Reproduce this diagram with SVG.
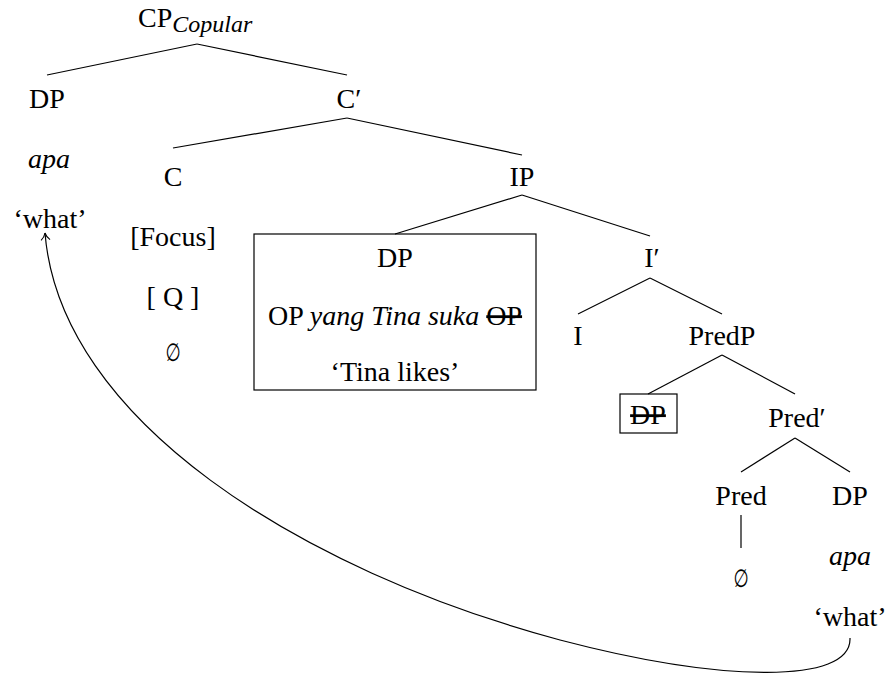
<svg xmlns="http://www.w3.org/2000/svg" width="888" height="676" viewBox="0 0 888 676">
  <style>
    text { font-family: "Liberation Serif", "Times New Roman", serif; font-size: 28px; fill: #000; text-anchor: middle; }
    .it { font-style: italic; }
    .sub { font-style: italic; font-size: 24px; }
    .empty { font-family: "DejaVu Sans", sans-serif; font-size: 25px; }
    .edge { stroke: #000; stroke-width: 1.2; fill: none; }
    .box { stroke: #000; stroke-width: 1.2; fill: none; }
    .strike { text-decoration: line-through; }
  </style>
  <defs>
    <marker id="head" markerWidth="12" markerHeight="12" refX="8" refY="6" orient="auto" markerUnits="userSpaceOnUse">
      <path d="M 1 1.5 Q 4 5 8 6 Q 4 7 1 10.5" fill="none" stroke="#000" stroke-width="1.1"/>
    </marker>
  </defs>

  <!-- tree branches -->
  <g id="connectors">
    <line class="edge" x1="197" y1="44" x2="47" y2="75"/>
    <line class="edge" x1="197" y1="44" x2="347" y2="75"/>
    <line class="edge" x1="347" y1="118" x2="173" y2="148"/>
    <line class="edge" x1="347" y1="118" x2="522" y2="155"/>
    <line class="edge" x1="522" y1="195" x2="395" y2="234"/>
    <line class="edge" x1="522" y1="195" x2="650" y2="236"/>
    <line class="edge" x1="650" y1="278" x2="578" y2="314"/>
    <line class="edge" x1="650" y1="278" x2="722" y2="314"/>
    <line class="edge" x1="722" y1="355" x2="648" y2="394"/>
    <line class="edge" x1="722" y1="355" x2="795" y2="394"/>
    <line class="edge" x1="795" y1="438" x2="741" y2="472"/>
    <line class="edge" x1="795" y1="438" x2="850" y2="472"/>
    <line class="edge" x1="741" y1="515" x2="741" y2="548"/>
    <!-- movement arrow from the lower DP back to the fronted DP -->
    <path class="edge" d="M 850 638 C 852 685, 720 682, 560 640 C 300 570, 60 420, 45 233" marker-end="url(#head)"/>
  </g>

  <g id="cp">
    <text x="138" y="27" style="text-anchor:start"><tspan>CP</tspan><tspan class="sub" dy="5">Copular</tspan></text>
  </g>
  <g id="dp-apa">
    <text x="47" y="108">DP</text>
    <text class="it" x="49" y="168">apa</text>
    <text x="50" y="228">‘what’</text>
  </g>
  <g id="cbar">
    <text x="349" y="108">C′</text>
  </g>
  <g id="c">
    <text x="173" y="186">C</text>
    <text x="173" y="246">[Focus]</text>
    <text x="173" y="306">[ Q ]</text>
    <text class="empty" transform="translate(173 361) scale(0.7 1)" x="0" y="0">∅</text>
  </g>
  <g id="ip">
    <text x="522" y="186">IP</text>
  </g>
  <g id="dp-relative">
    <rect class="box" x="254" y="234" width="282" height="156"/>
    <text x="395" y="267">DP</text>
    <text x="395" y="325">OP <tspan class="it">yang Tina suka</tspan> <tspan class="strike">OP</tspan></text>
    <text x="395" y="381">‘Tina likes’</text>
  </g>
  <g id="ibar">
    <text x="652" y="267">I′</text>
  </g>
  <g id="i">
    <text x="578" y="345">I</text>
  </g>
  <g id="predp">
    <text x="722" y="345">PredP</text>
  </g>
  <g id="dp-trace">
    <rect class="box" x="620" y="394" width="57" height="39"/>
    <text class="strike" x="648" y="424">DP</text>
  </g>
  <g id="predbar">
    <text x="797" y="427">Pred′</text>
  </g>
  <g id="pred">
    <text x="741" y="505">Pred</text>
    <text class="empty" transform="translate(741 587) scale(0.7 1)" x="0" y="0">∅</text>
  </g>
  <g id="dp-what">
    <text x="850" y="505">DP</text>
    <text class="it" x="850" y="565">apa</text>
    <text x="850" y="626">‘what’</text>
  </g>
</svg>
